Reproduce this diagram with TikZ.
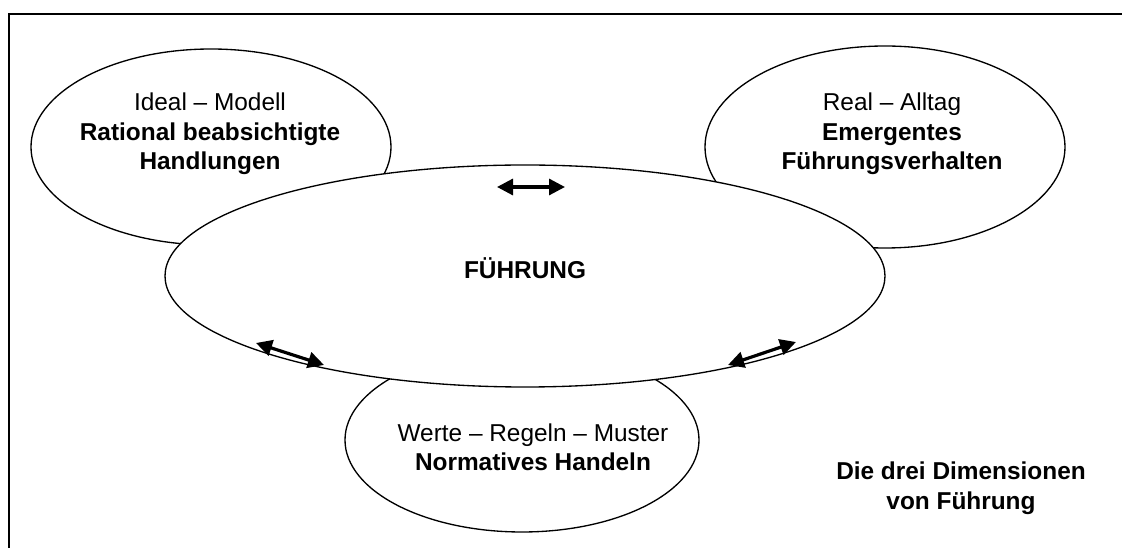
\documentclass[tikz,border=0pt]{standalone}
\usepackage{fontspec}
\setmainfont{Liberation Sans}
\usetikzlibrary{shapes.geometric,arrows.meta}

\begin{document}
\begin{tikzpicture}[x=0.75pt,y=-0.75pt,
  dim/.style={draw,line width=1pt,ellipse,fill=white,inner sep=0pt},
  txt/.style={align=center,font=\fontsize{18.3}{22}\selectfont},
  dbl/.style={{Triangle[length=12pt,width=12pt]}-{Triangle[length=12pt,width=12pt]},line width=2.4pt}]

 \useasboundingbox (0,0) rectangle (1122,548);

 \coordinate (fa) at (9,548);
 \coordinate (fb) at (1122,14);
 \draw[line width=1.5pt] (fa) |- (fb);

 \node[dim,minimum width=265.5pt,minimum height=138pt] (norm) at (522,440) {};

 \node[dim,minimum width=270pt,minimum height=147pt] (ideal) at (211,147) {};

 \node[dim,minimum width=270pt,minimum height=151.5pt] (real) at (885,147) {};

 \node[dim,minimum width=540pt,minimum height=166.5pt] (fuehrung) at (525,276) {};

 \node[txt] (idealtxt) at (210,134) {Ideal – Modell\\\textbf{Rational beabsichtigte}\\\textbf{Handlungen}};

 \node[txt] (realtxt) at (892,134) {Real – Alltag\\\textbf{Emergentes}\\\textbf{Führungsverhalten}};

 \node[txt] (fuehrungtxt) at (525,268) {\textbf{FÜHRUNG}};

 \node[txt] (normtxt) at (533,447) {Werte – Regeln – Muster\\\textbf{Normatives Handeln}};

 \node[txt,font=\fontsize{18.3}{22.5}\selectfont\bfseries] (titel) at (961,488) {Die drei Dimensionen\\von Führung};

 \coordinate (t1) at (497,187);
 \coordinate (t2) at (565,187);
 \coordinate (l1) at (256,343);
 \coordinate (l2) at (324,365);
 \coordinate (r1) at (728,365);
 \coordinate (r2) at (796,342);

 \draw[dbl] (t1) -- (t2);
 \draw[dbl] (l1) -- (l2);
 \draw[dbl] (r1) -- (r2);

\end{tikzpicture}
\end{document}
